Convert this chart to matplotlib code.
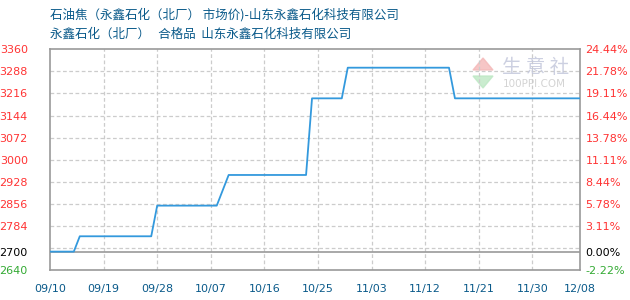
import matplotlib
matplotlib.use("Agg")
import matplotlib.pyplot as plt
import matplotlib.dates as mdates
import numpy as np
import pandas as pd

plt.rcParams['font.family'] = ['Noto Sans CJK SC', 'DejaVu Sans']

# Price series (yuan/ton)
dates = ["2023-09-10", "2023-09-14", "2023-09-15", "2023-09-27", "2023-09-28",
         "2023-10-08", "2023-10-10", "2023-10-23", "2023-10-24", "2023-10-29",
         "2023-10-30", "2023-11-16", "2023-11-17", "2023-12-08"]
prices = [2700, 2700, 2750, 2750, 2850, 2850, 2950, 2950, 3200, 3200,
          3300, 3300, 3200, 3200]

base_price = 2700
y_min, y_max = 2640, 3360
y_ticks = [3360, 3288, 3216, 3144, 3072, 3000, 2928, 2856, 2784, 2700, 2640]
grid_levels = [3288, 3216, 3144, 3072, 3000, 2928, 2856, 2784, 2712]
x_ticks = ["2023-09-10", "2023-09-19", "2023-09-28", "2023-10-07", "2023-10-16",
           "2023-10-25", "2023-11-03", "2023-11-12", "2023-11-21", "2023-11-30",
           "2023-12-08"]

title_1 = "石油焦（永鑫石化（北厂） 市场价)-山东永鑫石化科技有限公司"
title_2 = "永鑫石化（北厂）   合格品  山东永鑫石化科技有限公司"

RED = "#ff3333"
GREEN = "#33aa33"
TEXT_BLUE = "#0a5a8a"
LINE_BLUE = "#3399dd"
BORDER = "#999999"
GRID = "#cccccc"

d = pd.to_datetime(dates)
xt = pd.to_datetime(x_ticks)

fig = plt.figure(figsize=(6.3, 3.0), dpi=100)
ax = fig.add_axes([50/630, 30/300, 530/630, 220.7/300])

ax.set_xlim(xt[0], xt[-1])
ax.set_ylim(y_min, y_max)

for g in grid_levels:
    ax.axhline(g, color=GRID, lw=0.9, ls=(0, (3, 2)), zorder=1)
for t in xt[1:-1]:
    ax.axvline(t, color=GRID, lw=0.9, ls=(0, (3, 2)), zorder=1)
ax.axhline(base_price, color=BORDER, lw=1.2, zorder=2)

ax.plot(d, prices, color=LINE_BLUE, lw=1.3, zorder=3)

for s in ax.spines.values():
    s.set_color(BORDER)
    s.set_linewidth(1.2)

def tick_color(v):
    if v == base_price:
        return "black"
    return RED if v > base_price else GREEN

ax.set_yticks(y_ticks)
ax.set_yticklabels([str(v) for v in y_ticks], family="DejaVu Sans", fontsize=8)
for lbl, v in zip(ax.get_yticklabels(), y_ticks):
    lbl.set_color(tick_color(v))
ax.tick_params(axis="y", length=0, pad=16)

ax.set_xticks(xt)
ax.set_xticklabels([t.strftime("%m/%d") for t in xt], family="DejaVu Sans",
                   fontsize=8, color=TEXT_BLUE)
ax.tick_params(axis="x", length=0, pad=10)

ax2 = ax.twinx()
ax2.set_ylim(y_min, y_max)
ax2.set_yticks(y_ticks)
ax2.set_yticklabels([f"{(v - base_price) / base_price * 100:.2f}%" for v in y_ticks],
                    family="DejaVu Sans", fontsize=8)
for lbl, v in zip(ax2.get_yticklabels(), y_ticks):
    lbl.set_color(tick_color(v))
ax2.tick_params(axis="y", length=0, pad=4)
for s in ax2.spines.values():
    s.set_visible(False)

# watermark
fig.text(502/630, 1 - 67/300, "生 意 社", fontsize=14, color="#c4c8dc",
         ha="left", va="center", alpha=0.85)
fig.text(503/630, 1 - 84/300, "100PPI.COM", family="DejaVu Sans", fontsize=7.5,
         color="#cccccc", ha="left", va="center", alpha=0.85)
ax.add_patch(plt.Polygon([[483/630, 1 - 58/300], [473/630, 1 - 70/300],
                          [493/630, 1 - 70/300]], transform=fig.transFigure,
                         color="#f4b8b8", alpha=0.8, zorder=0))
ax.add_patch(plt.Polygon([[473/630, 1 - 76/300], [493/630, 1 - 76/300],
                          [483/630, 1 - 88/300]], transform=fig.transFigure,
                         color="#bde8c4", alpha=0.8, zorder=0))

fig.text(50/630, 1 - 15/300, title_1, fontsize=9, color=TEXT_BLUE, ha="left", va="center")
fig.text(50/630, 1 - 34/300, title_2, fontsize=9, color=TEXT_BLUE, ha="left", va="center")

fig.savefig("out.png", dpi=100)
